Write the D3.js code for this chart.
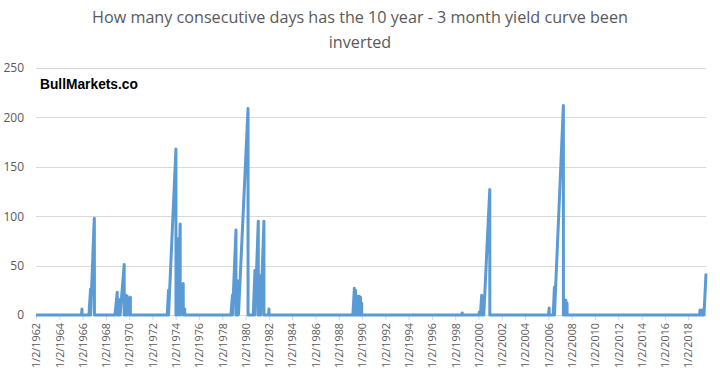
<!DOCTYPE html>
<html>
<head>
<meta charset="utf-8">
<script src="https://cdn.jsdelivr.net/npm/d3@7"></script>
<style>
  body { margin: 0; background: #fff; }
  svg { display: block; }
</style>
</head>
<body>
<div id="chart"></div>
<script>
// points where the day counter turns (reset to 0, peak)
var dates = [
  "1962-01-02",
  "1965-12-01", "1965-12-13", "1965-12-15",
  "1966-07-20", "1966-09-08", "1966-09-09", "1966-09-12", "1967-01-03", "1967-01-06", "1967-01-09",
  "1968-10-14", "1968-12-23", "1968-12-24", "1969-01-20", "1969-01-21", "1969-02-14", "1969-02-17",
  "1969-03-10", "1969-03-11", "1969-03-25", "1969-03-26", "1969-03-27", "1969-07-30", "1969-07-31",
  "1969-08-28", "1969-08-29", "1969-10-01", "1969-10-02", "1969-11-05", "1969-11-06", "1970-01-14",
  "1970-01-16", "1970-02-10", "1970-02-11",
  "1973-04-10", "1973-05-20", "1973-05-21", "1973-05-25", "1974-01-08", "1974-01-09", "1974-03-14",
  "1974-03-15", "1974-05-21", "1974-05-22", "1974-08-25", "1974-08-26", "1974-10-10", "1974-10-11",
  "1978-09-28", "1978-11-15", "1978-11-16", "1978-11-20", "1979-03-06", "1979-03-07", "1979-04-10",
  "1979-04-11", "1979-05-10", "1979-05-11", "1979-05-25", "1980-03-18", "1980-03-19",
  "1980-08-28", "1980-10-20", "1980-10-21", "1980-10-23", "1981-02-03", "1981-02-04", "1981-03-17",
  "1981-04-20", "1981-04-21", "1981-04-23", "1981-07-30", "1981-07-31",
  "1981-12-20", "1982-01-05", "1982-01-06",
  "1989-03-20", "1989-05-05", "1989-05-06", "1989-05-08", "1989-06-10", "1989-06-11", "1989-06-14",
  "1989-07-20", "1989-07-21", "1989-08-25", "1989-08-26", "1989-10-01", "1989-10-02", "1989-11-15",
  "1989-11-16", "1989-12-20", "1989-12-21",
  "1998-07-20", "1998-08-10", "1998-08-20",
  "2000-01-15", "2000-01-28", "2000-01-31", "2000-03-01", "2000-04-10", "2000-04-11", "2000-06-15",
  "2000-12-20", "2000-12-21",
  "2006-01-05", "2006-01-25", "2006-01-26", "2006-06-01", "2006-07-10", "2006-07-11", "2006-07-12",
  "2007-04-17", "2007-04-18", "2007-05-20", "2007-06-10", "2007-06-11", "2007-06-12", "2007-07-05",
  "2007-07-06", "2007-08-10", "2007-08-11",
  "2018-12-28", "2019-01-10", "2019-01-11", "2019-03-22", "2019-03-29", "2019-03-30", "2019-05-14",
  "2019-07-16"
];
var days = [
  0,
  0, 6, 0,
  0, 26, 0, 1, 97, 98, 0,
  0, 23, 0, 9, 0, 8, 0,
  10, 0, 16, 0, 1, 51, 0,
  20, 0, 20, 0, 19, 0, 17,
  0, 18, 0,
  0, 25, 0, 3, 168, 0, 77,
  0, 92, 0, 32, 0, 6, 0,
  0, 20, 0, 2, 86, 0, 35,
  0, 30, 0, 1, 209, 0,
  0, 45, 0, 1, 95, 0, 0,
  40, 0, 2, 95, 0,
  0, 6, 0,
  0, 27, 0, 1, 25, 0, 1,
  18, 0, 19, 0, 19, 0, 18,
  0, 12, 0,
  0, 2, 0,
  0, 3, 0, 0, 20, 0, 0,
  127, 0,
  0, 7, 0, 0, 28, 0, 1,
  212, 0, 0, 15, 0, 1, 15,
  0, 12, 0,
  0, 5, 0, 0, 5, 0, 0,
  42
];
var yTicks = [0, 50, 100, 150, 200, 250];
var xTickLabels = [
  "1/2/1962", "1/2/1964", "1/2/1966", "1/2/1968", "1/2/1970", "1/2/1972", "1/2/1974", "1/2/1976",
  "1/2/1978", "1/2/1980", "1/2/1982", "1/2/1984", "1/2/1986", "1/2/1988", "1/2/1990", "1/2/1992",
  "1/2/1994", "1/2/1996", "1/2/1998", "1/2/2000", "1/2/2002", "1/2/2004", "1/2/2006", "1/2/2008",
  "1/2/2010", "1/2/2012", "1/2/2014", "1/2/2016", "1/2/2018"
];
var titleLines = ["How many consecutive days has the 10 year - 3 month yield curve been", "inverted"];
var watermark = "BullMarkets.co";

var width = 720,
    height = 376,
    margin = ({ top: 68, right: 14, bottom: 61, left: 36 }),
    grey = "#595959",
    gridColor = "#d9d9d9",
    lineColor = "#5b9bd5",
    font = "'Open Sans', 'Liberation Sans', sans-serif";

var parse = d3.timeParse("%Y-%m-%d"),
    parseLabel = d3.timeParse("%m/%d/%Y");

var data = dates.map((d, i) => ({ date: parse(d), value: days[i] }));

var x = d3.scaleTime()
    .domain([parse(dates[0]), parse(dates[dates.length - 1])])
    .range([margin.left, width - margin.right]);

var y = d3.scaleLinear()
    .domain([0, 250])
    .range([height - margin.bottom, margin.top]);

var svg = d3.select("#chart").append("svg")
    .attr("width", width)
    .attr("height", height);

// title, scaled to the width it takes in the picture
var title = svg.append("g")
    .attr("fill", grey)
    .attr("text-anchor", "middle")
    .style("font-family", font);
title.selectAll("text")
    .data(titleLines)
    .join("text")
    .attr("x", width / 2)
    .attr("y", (d, i) => 23 + i * 25)
    .style("font-size", "16px")
    .text(d => d);
var firstLine = title.select("text").node();
var titleSize = 16 * 536 / firstLine.getComputedTextLength();
title.selectAll("text").style("font-size", titleSize + "px");

// grid lines
svg.append("g")
    .selectAll("line")
    .data(yTicks.filter(d => d > 0))
    .join("line")
    .attr("x1", margin.left)
    .attr("x2", width - margin.right)
    .attr("y1", d => Math.round(y(d)) + 0.5)
    .attr("y2", d => Math.round(y(d)) + 0.5)
    .attr("stroke", gridColor)
    .attr("stroke-width", 1);

// y axis
var yAxis = svg.append("g")
    .attr("transform", `translate(${margin.left - 12},0)`)
    .call(d3.axisLeft(y).tickValues(yTicks).tickSize(0).tickPadding(0));
yAxis.select(".domain").remove();
yAxis.selectAll("text")
    .attr("fill", grey)
    .style("font-family", font)
    .style("font-size", "12px");

// x axis
var xAxis = svg.append("g")
    .attr("transform", `translate(0,${height - margin.bottom})`)
    .call(d3.axisBottom(x)
        .tickValues(xTickLabels.map(parseLabel))
        .tickFormat((d, i) => xTickLabels[i])
        .tickSize(5)
        .tickSizeOuter(0));
xAxis.select(".domain").attr("stroke", gridColor);
xAxis.selectAll(".tick line").attr("stroke", gridColor);
var xLabels = xAxis.selectAll("text")
    .attr("fill", grey)
    .style("font-family", font)
    .style("font-size", "11px")
    .attr("text-anchor", "end")
    .attr("transform", "rotate(-90)")
    .attr("x", -8)
    .attr("y", 0)
    .attr("dy", "0.35em");
// labels run 45px long in the picture
var labelSize = 11 * 45 / xLabels.node().getComputedTextLength();
xLabels.style("font-size", labelSize + "px");

// the series
svg.append("path")
    .datum(data)
    .attr("fill", "none")
    .attr("stroke", lineColor)
    .attr("stroke-width", 3)
    .attr("stroke-linejoin", "round")
    .attr("d", d3.line().x(d => x(d.date)).y(d => y(d.value)));

// watermark
var mark = svg.append("text")
    .attr("x", 40)
    .attr("y", 89)
    .attr("fill", "#000")
    .style("font-family", "'Liberation Sans', 'Open Sans', sans-serif")
    .style("font-weight", "bold")
    .style("font-size", "15px")
    .text(watermark);
mark.style("font-size", 15 * 98 / mark.node().getComputedTextLength() + "px");
</script>
</body>
</html>
